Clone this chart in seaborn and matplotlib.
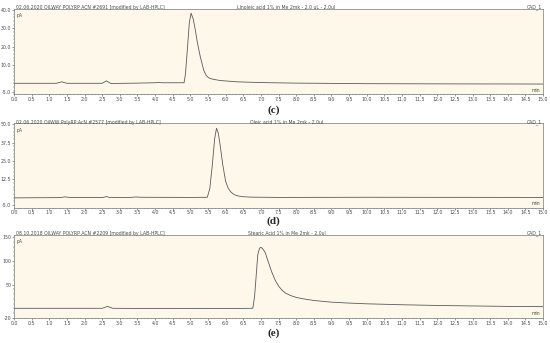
import numpy as np
import pandas as pd
import matplotlib
matplotlib.use("Agg")
import matplotlib.pyplot as plt
from matplotlib.ticker import MultipleLocator
import seaborn as sns

# Chromatogram traces (time in min, signal in pA)

t_linoleic = [0.0, 1.2, 1.35, 1.5, 2.5, 2.62, 2.75, 3.5, 4.0, 4.1, 4.2, 4.82, 4.86, 4.92,
              4.97, 5.02, 5.08, 5.14, 5.2, 5.28, 5.38, 5.45, 5.52, 5.6, 5.7, 5.85, 6.33,
              7.0, 8.0, 10.0, 12.0, 15.0]
y_linoleic = [0.0, 0.0, 0.8, 0.0, 0.0, 1.3, -0.1, 0.1, 0.3, 0.5, 0.3, 0.3, 5.0, 20.0,
              33.0, 38.2, 35.0, 29.0, 22.0, 14.5, 7.0, 4.2, 3.0, 2.4, 2.0, 1.5, 0.8,
              0.4, 0.1, -0.2, -0.3, -0.4]

t_oleic = [0.0, 1.3, 1.45, 1.6, 2.5, 2.62, 2.72, 3.3, 3.45, 3.6, 5.0, 5.48, 5.55, 5.62,
           5.69, 5.74, 5.79, 5.83, 5.92, 6.0, 6.07, 6.14, 6.23, 6.33, 6.5, 6.7, 7.5,
           10.0, 15.0]
y_oleic = [-0.2, 0.0, 0.5, 0.0, 0.0, 0.7, 0.0, 0.1, 0.4, 0.2, 0.1, 0.2, 6.0, 22.0,
           40.5, 47.3, 44.0, 38.0, 22.0, 11.0, 6.5, 4.0, 2.2, 1.2, 0.6, 0.3, 0.1,
           0.2, 0.1]

t_stearic = [0.0, 2.5, 2.65, 2.8, 4.0, 6.0, 6.77, 6.82, 6.86, 6.91, 6.96, 7.0, 7.05,
             7.12, 7.2, 7.3, 7.4, 7.5, 7.6, 7.7, 7.84, 8.0, 8.2, 8.5, 9.0, 9.5, 10.0,
             11.0, 12.0, 13.0, 14.0, 15.0]
y_stearic = [0.0, 0.0, 4.0, 0.0, -0.5, -0.5, 0.0, 25.0, 64.0, 113.0, 127.0, 129.0, 126.0,
             118.0, 100.0, 78.0, 60.0, 47.0, 38.0, 32.0, 27.0, 23.0, 20.0, 16.5, 13.0,
             11.0, 9.5, 7.5, 6.0, 5.0, 4.0, 3.5]

headers_left = ["02.06.2020 OILWAY POLYRP ACN #2691 [modified by LAB-HPLC]",
                "02.06.2020 OilWW PolyRP AcN #2577 [modified by LAB-HPLC]",
                "08.10.2018 OILWAY POLYRP ACN #2209 [modified by LAB-HPLC]"]
headers_mid = ["Linoleic acid 1% in Me 2mk - 2.0 uL - 2.0ul",
               "Oleic acid 1% in Me 2mk - 2.0ul",
               "Stearic Acid 1% in Me 2mk - 2.0ul"]
panel_labels = ["(c)", "(d)", "(e)"]
ytick_vals = [[-5.0, 10.0, 20.0, 30.0, 40.0],
              [-5.0, 12.5, 25.0, 37.5, 50.0],
              [-20, 50, 100, 150]]
ytick_text = [["-5.0", "10.0", "20.0", "30.0", "40.0"],
              ["-5.0", "12.5", "25.0", "37.5", "50.0"],
              ["-20", "50", "100", "150"]]
ylims = [(-6.0, 40.5), (-6.9, 50.7), (-20.5, 155)]

sns.set_style("ticks")
plt.rcParams['font.family'] = ['DejaVu Sans']

fig = plt.figure(figsize=(5.5, 3.43), dpi=100)
rects = [[0.0255, 0.725, 0.962, 0.249],
         [0.0255, 0.3945, 0.962, 0.246],
         [0.0255, 0.0729, 0.962, 0.242]]
traces = [(t_linoleic, y_linoleic), (t_oleic, y_oleic), (t_stearic, y_stearic)]
label_y = [0.679, 0.356, 0.028]

ink = "#4a4a4a"
for i, (tt, yy) in enumerate(traces):
    ax = fig.add_axes(rects[i])
    ax.set_facecolor("#fdf8ea")
    df = pd.DataFrame({"time": tt, "signal": yy})
    sns.lineplot(data=df, x="time", y="signal", ax=ax, color="#5a5a5a",
                 linewidth=0.6, estimator=None, sort=False)
    ax.set_xlim(0, 15)
    ax.set_ylim(*ylims[i])
    ax.set_xlabel("")
    ax.set_ylabel("")
    ax.xaxis.set_minor_locator(MultipleLocator(0.1))
    ax.set_xticks(np.arange(0, 15.01, 0.5))
    ax.set_xticklabels([f"{v:.1f}" for v in np.arange(0, 15.01, 0.5)])
    ax.set_yticks(ytick_vals[i])
    ax.set_yticklabels(ytick_text[i])
    ax.tick_params(axis="both", which="major", labelsize=3.4, length=1.6, width=0.4,
                   pad=0.4, colors=ink)
    ax.tick_params(axis="both", which="minor", length=0.9, width=0.3, colors=ink)
    ax.yaxis.set_minor_locator(MultipleLocator((ytick_vals[i][-1] - ytick_vals[i][-2]) / 5))
    for side in ["left", "right", "top", "bottom"]:
        ax.spines[side].set_linewidth(0.5)
        ax.spines[side].set_color("#777777")
    ax.text(0.003, 0.985, headers_left[i], transform=ax.transAxes, fontsize=3.3,
            color=ink, ha="left", va="bottom")
    ax.text(0.515, 0.985, headers_mid[i], transform=ax.transAxes, fontsize=3.3,
            color=ink, ha="center", va="bottom")
    ax.text(0.997, 0.985, "CAD_1", transform=ax.transAxes, fontsize=3.3,
            color=ink, ha="right", va="bottom")
    ax.text(0.004, 0.95, "pA", transform=ax.transAxes, fontsize=3.3,
            color=ink, ha="left", va="top")
    ax.text(0.995, 0.02, "min", transform=ax.transAxes, fontsize=3.3,
            color=ink, ha="right", va="bottom")
    fig.text(0.497, label_y[i], panel_labels[i], fontsize=8, fontweight="bold",
             family="Liberation Serif", ha="center", va="center")

fig.savefig("out.png", dpi=100)
